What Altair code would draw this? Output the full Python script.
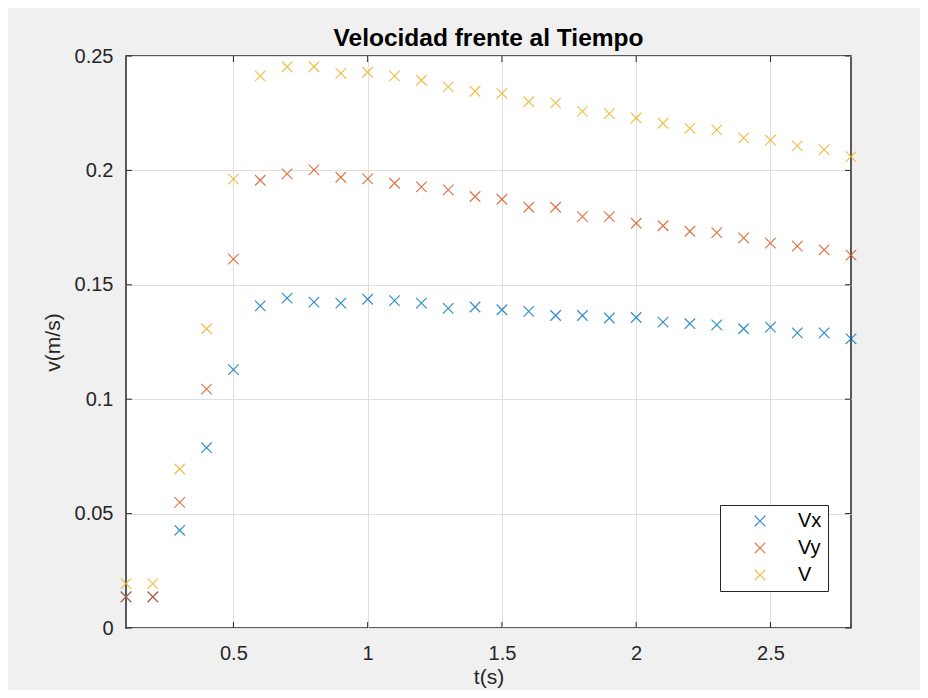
import altair as alt
import pandas as pd

t = [0.1, 0.2, 0.3, 0.4, 0.5, 0.6, 0.7, 0.8, 0.9, 1.0, 1.1, 1.2, 1.3, 1.4,
     1.5, 1.6, 1.7, 1.8, 1.9, 2.0, 2.1, 2.2, 2.3, 2.4, 2.5, 2.6, 2.7, 2.8]
vx = [0.0136, 0.0136, 0.0427, 0.0788, 0.1129, 0.1408, 0.1442, 0.1424, 0.1420, 0.1437,
      0.1431, 0.1420, 0.1397, 0.1403, 0.1391, 0.1384, 0.1366, 0.1366, 0.1355, 0.1357,
      0.1337, 0.1330, 0.1325, 0.1308, 0.1315, 0.1290, 0.1290, 0.1264]
vy = [0.0136, 0.0136, 0.0549, 0.1044, 0.1612, 0.1957, 0.1985, 0.2002, 0.1970, 0.1963,
      0.1944, 0.1928, 0.1915, 0.1886, 0.1874, 0.1839, 0.1839, 0.1798, 0.1798, 0.1769,
      0.1758, 0.1734, 0.1728, 0.1705, 0.1682, 0.1669, 0.1653, 0.1630]
v = [0.0194, 0.0194, 0.0695, 0.1308, 0.1962, 0.2413, 0.2453, 0.2453, 0.2424, 0.2429,
     0.2413, 0.2394, 0.2365, 0.2346, 0.2337, 0.2300, 0.2295, 0.2258, 0.2248, 0.2229,
     0.2206, 0.2184, 0.2177, 0.2142, 0.2132, 0.2107, 0.2091, 0.2060]
series_names = ["Vx", "Vy", "V"]
series_colors = ["#0072BD", "#D95319", "#EDB120"]
x_ticks = [0.5, 1.0, 1.5, 2.0, 2.5]
y_ticks = [0, 0.05, 0.1, 0.15, 0.2, 0.25]

rows = []
for name, vals in zip(series_names, [vx, vy, v]):
    for ti, vi in zip(t, vals):
        rows.append({"t": ti, "v": vi, "serie": name})
df = pd.DataFrame(rows)
xt = pd.DataFrame({"t": x_ticks})
yt = pd.DataFrame({"v": y_ticks})

W, H = 725, 572
FONT = "Liberation Sans"
XPATH = "M-1,-1L1,1M-1,1L1,-1"
INK = "#262626"

xscale = alt.Scale(domain=[0.1, 2.8], nice=False, zero=False)
yscale = alt.Scale(domain=[0, 0.25], nice=False)
xaxis = alt.Axis(values=x_ticks, format="~g", grid=True, ticks=False, tickSize=0,
                 domain=False, labelPadding=15, titlePadding=3)
yaxis = alt.Axis(values=y_ticks, format="~g", grid=True, ticks=False, tickSize=0,
                 domain=False, labelPadding=13, titlePadding=11)


def X():
    return alt.X("t:Q", scale=xscale, title="t(s)", axis=xaxis)


def Y():
    return alt.Y("v:Q", scale=yscale, title="v(m/s)", axis=yaxis)


points = alt.Chart(df).mark_point(
    shape=XPATH, filled=False, size=110, strokeWidth=1.2, opacity=0.8
).encode(
    x=X(),
    y=Y(),
    color=alt.Color("serie:N",
                    scale=alt.Scale(domain=series_names, range=series_colors),
                    legend=alt.Legend(title=None, orient="none", legendX=594, legendY=449,
                                      symbolType=XPATH, symbolSize=110, symbolStrokeWidth=1.2,
                                      symbolOpacity=0.8,
                                      symbolOffset=24, labelOffset=28, padding=6,
                                      rowPadding=7, labelFontSize=20, labelFont=FONT,
                                      labelColor="#000000", strokeColor=INK, fillColor="white",
                                      cornerRadius=0)),
)

tick_color = INK
xb = alt.Chart(xt).mark_rule(color=tick_color, strokeWidth=1).encode(
    x=X(), y=alt.value(H), y2=alt.value(H - 6))
xtp = alt.Chart(xt).mark_rule(color=tick_color, strokeWidth=1).encode(
    x=X(), y=alt.value(0), y2=alt.value(6))
yl = alt.Chart(yt).mark_rule(color=tick_color, strokeWidth=1).encode(
    y=Y(), x=alt.value(0), x2=alt.value(6))
yr = alt.Chart(yt).mark_rule(color=tick_color, strokeWidth=1).encode(
    y=Y(), x=alt.value(W), x2=alt.value(W - 6))

chart = alt.layer(points, xb, xtp, yl, yr).properties(
    width=W, height=H,
    title=alt.TitleParams("Velocidad frente al Tiempo", fontSize=24.5, fontWeight="bold",
                          font=FONT, color="#000000", offset=-5, anchor="middle"),
    autosize=alt.AutoSizeParams(type="none"),
    padding={"left": 118, "top": 48, "right": 69, "bottom": 62},
    background="#f0f0f0",
).configure_view(
    fill="white", stroke=INK, strokeWidth=1.5
).configure_axis(
    labelFont=FONT, labelFontSize=20, labelColor=INK,
    titleFont=FONT, titleFontSize=21, titleFontWeight="normal", titleColor=INK,
    gridColor="#dfdfdf", gridWidth=1
)

chart.save("out.html", embed_options={"renderer": "svg", "actions": False})
